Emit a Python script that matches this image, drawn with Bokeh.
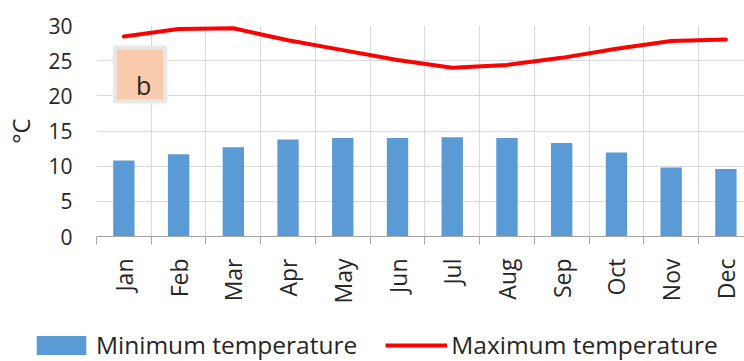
import math
from bokeh.plotting import figure
from bokeh.layouts import column, row
from bokeh.models import (Range1d, FixedTicker, Legend, LegendItem,
                          BoxAnnotation, Label, ColumnDataSource)
from bokeh.embed import file_html
from bokeh.resources import INLINE

# Monthly temperature climatology (°C)
months = ["Jan", "Feb", "Mar", "Apr", "May", "Jun",
          "Jul", "Aug", "Sep", "Oct", "Nov", "Dec"]
min_temp = [10.8, 11.7, 12.7, 13.8, 14.0, 14.0, 14.1, 14.0, 13.3, 11.95, 9.8, 9.6]
max_temp = [28.45, 29.5, 29.6, 27.9, 26.5, 25.1, 24.0, 24.4, 25.4, 26.7, 27.8, 28.0]
y_ticks = [0, 5, 10, 15, 20, 25, 30]
series_names = ["Minimum temperature", "Maximum temperature"]

pos = list(range(1, len(months) + 1))
edges = [i + 0.5 for i in range(0, len(months) + 1)]

src = ColumnDataSource(dict(x=pos, month=months, tmin=min_temp, tmax=max_temp))

FONT = "Open Sans"
TXT = "#262626"
BAR = "#5B9BD5"
RED = "#FF0000"

p = figure(width=744, height=310, output_backend="svg", toolbar_location=None,
           x_range=Range1d(0.5, 12.34), y_range=Range1d(0, 30),
           min_border_left=96, min_border_right=0, min_border_top=25,
           min_border_bottom=74)
p.outline_line_color = None
p.background_fill_color = "white"
p.border_fill_color = "white"

# grid: vertical lines on category boundaries, horizontal on the y ticks
p.xgrid.ticker = FixedTicker(ticks=edges)
p.ygrid.ticker = FixedTicker(ticks=y_ticks)
for g in (p.xgrid, p.ygrid):
    g.grid_line_color = "#D9D9D9"
    g.grid_line_width = 1

p.vbar(x="x", top="tmin", width=0.39, source=src,
       fill_color=BAR, line_color=None)
p.line(x="x", y="tmax", source=src, line_color=RED,
       line_width=4, line_join="round", line_cap="round")

# x axis: month labels at centres, tick marks on the boundaries
xa = p.xaxis[0]
xa.ticker = FixedTicker(ticks=pos, minor_ticks=edges)
xa.major_label_overrides = {i: m for i, m in zip(pos, months)}
xa.major_label_orientation = math.pi / 2
xa.major_tick_in = 0
xa.major_tick_out = 0
xa.minor_tick_in = 0
xa.minor_tick_out = 8
xa.minor_tick_line_color = "#A6A6A6"
xa.axis_line_color = "#A6A6A6"
xa.major_label_standoff = 14
xa.major_label_text_font = FONT
xa.major_label_text_font_size = "23px"
xa.major_label_text_color = TXT

ya = p.yaxis[0]
ya.ticker = FixedTicker(ticks=y_ticks)
ya.axis_line_color = None
ya.major_tick_in = 0
ya.major_tick_out = 0
ya.minor_tick_in = 0
ya.minor_tick_out = 0
ya.major_tick_line_color = None
ya.minor_tick_line_color = None
ya.major_label_standoff = 24
ya.major_label_text_font = FONT
ya.major_label_text_font_size = "21px"
ya.major_label_text_color = TXT
ya.axis_label = "°C"
ya.axis_label_standoff = 8
ya.axis_label_text_font = FONT
ya.axis_label_text_font_size = "24px"
ya.axis_label_text_font_style = "normal"
ya.axis_label_text_color = TXT

# panel tag "b"
p.add_layout(BoxAnnotation(left=0.836, right=1.758, bottom=19.2, top=26.87,
                           fill_color="#F8CBAD", fill_alpha=1.0,
                           line_color="#E8E8E8", line_width=4, line_alpha=1.0))
p.add_layout(Label(x=1.362, y=21.47, text="b", text_align="center",
                   text_baseline="alphabetic", text_font=FONT,
                   text_font_size="25px", text_color=TXT))

# legend strip under the chart; its key glyphs share the series source but
# sit outside the strip's visible range, so only the legend keys show
leg = figure(width=744, height=51, output_backend="svg", toolbar_location=None,
             x_axis_location=None, y_axis_location=None,
             x_range=Range1d(-3, -2), y_range=Range1d(0, 1),
             min_border=0, min_border_left=0, min_border_right=0,
             min_border_top=0, min_border_bottom=0)
leg.outline_line_color = None
leg.grid.visible = False
leg.background_fill_color = "white"
leg.border_fill_color = "white"
key_bar = leg.vbar(x="x", top="tmin", width=0.39, source=src,
                   fill_color=BAR, line_color=None)
key_line = leg.line(x="x", y="tmax", source=src, line_color=RED, line_width=4)

legend = Legend(items=[LegendItem(label=series_names[0], renderers=[key_bar]),
                       LegendItem(label=series_names[1], renderers=[key_line])],
                orientation="horizontal", location=(30, 0),
                padding=0, margin=0, spacing=28,
                glyph_width=62, glyph_height=24, label_height=19,
                label_standoff=4, border_line_color=None,
                background_fill_alpha=0.0,
                label_text_font=FONT, label_text_font_size="24.5px",
                label_text_color=TXT)
leg.add_layout(legend, "center")

page = column(p, row(leg, spacing=0), spacing=0)
open("out.html", "w").write(file_html(page, INLINE))
